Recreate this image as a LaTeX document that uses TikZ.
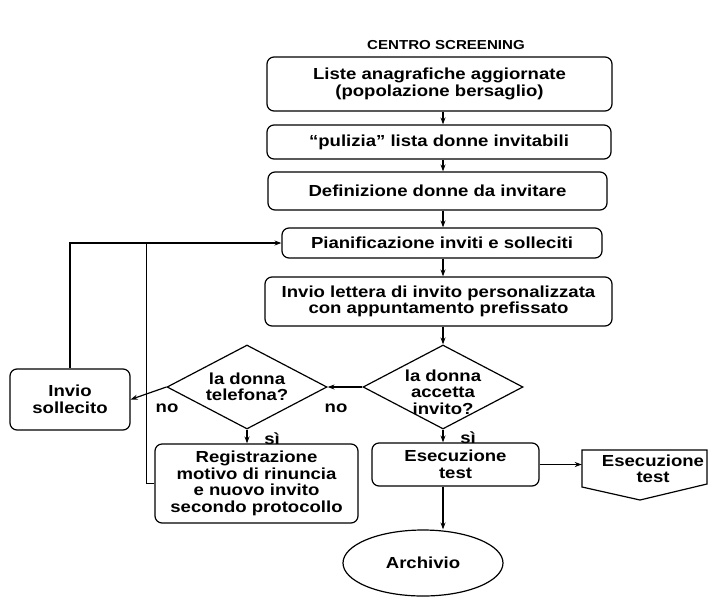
\documentclass[tikz,border=0pt]{standalone}
\usepackage{fontspec}
\setmainfont{Liberation Sans}[FakeStretch=1.16]
\usetikzlibrary{shapes.geometric,arrows.meta}
\begin{document}
\begin{tikzpicture}[x=1pt,y=-1pt,
  txt/.style={font=\bfseries\fontsize{16}{16.5}\selectfont, align=center},
  box/.style={txt, draw, rounded corners=7pt, line width=1.2pt, inner sep=0pt},
  dia/.style={draw, shape=diamond, line width=1.2pt, inner sep=0pt, minimum width=160pt, minimum height=84pt},
  arr/.style={-{Stealth[length=7pt,width=5pt]}, line width=1.2pt},
  ln/.style={line width=1.2pt},
  lbl/.style={txt, inner sep=0pt}]
\useasboundingbox (0,0) rectangle (712,598);
\node[font=\bfseries\fontsize{13}{13}\selectfont] (title) at (446,45) {CENTRO SCREENING};
\node[box, minimum width=345pt, minimum height=54pt] (b1) at (439.5,84) {Liste anagrafiche aggiornate\\(popolazione bersaglio)};
\node[box, minimum width=344pt, minimum height=34pt] (b2) at (439,142) {``pulizia'' lista donne invitabili};
\node[box, minimum width=339pt, minimum height=38pt] (b3) at (437.5,191) {Definizione donne da invitare};
\node[box, minimum width=320pt, minimum height=30pt] (b4) at (442,243) {Pianificazione inviti e solleciti};
\node[box, minimum width=347pt, minimum height=49pt] (b5) at (438.5,301.5) {Invio lettera di invito personalizzata\\con appuntamento prefissato};
\node[dia, label={[txt, yshift=-5pt]center:la donna\\accetta\\invito?}] (d2) at (443,387) {};
\node[dia, label={[txt]center:la donna\\telefona?}] (d1) at (247,387) {};
\node[box, minimum width=120pt, minimum height=61pt] (sol) at (70,399.5) {Invio\\sollecito};
\node[box, minimum width=203pt, minimum height=79pt] (reg) at (256.5,483.5) {Registrazione\\motivo di rinuncia\\e nuovo invito\\secondo protocollo};
\node[box, minimum width=167pt, minimum height=43pt] (ese) at (455.5,464.5) {Esecuzione\\test};
\draw[ln] (582,450) -- (707,450) -- (707,484) -- (640,500) -- (582,487) -- cycle;
\node[txt, minimum width=142pt, inner sep=0pt] (ex) at (653,469) {Esecuzione\\test};
\node[txt, draw, ellipse, line width=1.2pt, minimum width=160pt, minimum height=66pt, inner sep=0pt] (arch) at (423,563) {Archivio};
\node[lbl] (no1) at (167,408) {no};
\node[lbl] (no2) at (336,408) {no};
\node[lbl] (si1) at (272,439) {sì};
\node[lbl] (si2) at (468,438) {sì};
\draw[arr] (b1.south -| d2.north) -- (b2.north -| d2.north);
\draw[arr] (b2.south -| d2.north) -- (b3.north -| d2.north);
\draw[arr] (b3.south -| d2.north) -- (b4.north -| d2.north);
\draw[arr] (b4.south -| d2.north) -- (b5.north -| d2.north);
\draw[arr] (b5.south -| d2.north) -- (d2.north);
\draw[arr] (d2.west) -- (d1.east);
\draw[arr] (d1.west) -- (sol.east);
\draw[arr] (d1.south) -- (reg.north -| d1.south);
\draw[arr] (d2.south) -- (ese.north -| d2.south);
\draw[arr] (ese.east) -- (ex.west |- ese.east);
\draw[arr] (ese.south -| d2.south) -- (arch.north -| d2.south);
\draw[arr] (sol.north) |- (b4.west);
\draw[ln] (reg.west) -- ++(-8,0) coordinate (rc) -- (rc |- b4.west);
\end{tikzpicture}
\end{document}
